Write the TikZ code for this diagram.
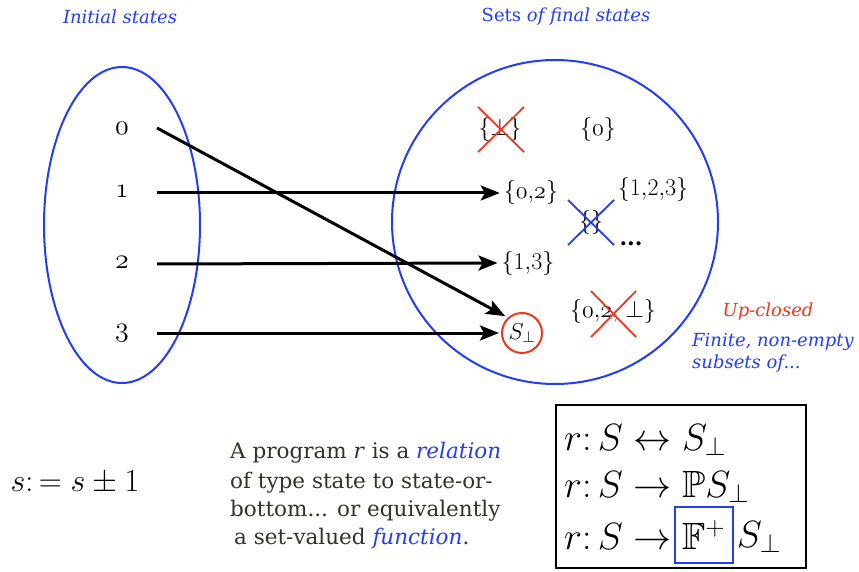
\RequirePackage{fix-cm}
\documentclass[tikz,border=0pt]{standalone}
\usepackage{amssymb}
\usepackage{fontspec}
\setmainfont{DejaVu Serif}
\usetikzlibrary{arrows.meta}
\definecolor{myblue}{RGB}{35,60,245}
\definecolor{myred}{RGB}{240,55,30}
\definecolor{txtgray}{RGB}{50,50,40}
\begin{document}
\begin{tikzpicture}[x=1pt,y=-1pt,
  lbl/.style={font=\fontsize{18}{22}\selectfont\itshape, text=myblue},
  num/.style={font=\fontsize{28}{32}\selectfont, inner sep=0pt},
  setn/.style={font=\fontsize{24}{28}\selectfont, inner sep=1pt},
  arr/.style={line width=3pt, -{Stealth[length=19pt,width=15pt,inset=4pt]}},
  crossr/.style={line width=1.8pt, myred},
  crossb/.style={line width=1.8pt, myblue},
  para/.style={font=\fontsize{21.5}{26}\selectfont, text=txtgray, anchor=west, inner sep=0pt},
  mathl/.style={font=\fontsize{38}{44}\selectfont, anchor=west, inner sep=0pt}]
\useasboundingbox (0,0) rectangle (859,572);
% titles
\node[lbl] (tinit) at (120,17) {Initial states};
\node[font=\fontsize{18}{22}\selectfont, text=myblue] (tfinal) at (566,17) {Sets \textit{of final states}};
% ellipses
\draw[myblue, line width=2pt] (122,225) ellipse [x radius=78, y radius=158];
\draw[myblue, line width=2pt] (555,222) ellipse [x radius=163, y radius=162];
% numbers
\node[num] (n0) at (122,128) {$\mathnormal{0}$};
\node[num] (n1) at (122,191) {$\mathnormal{1}$};
\node[num] (n2) at (122,262) {$\mathnormal{2}$};
\node[num] (n3) at (122,333) {$\mathnormal{3}$};
\coordinate (a0) at (157,128);
\coordinate (a1) at (157,193);
\coordinate (a2) at (157,264);
\coordinate (a3) at (157,333);
% sets
\node[setn] (sb) at (500,130) {$\{\perp\}$};
\draw[crossr] (478,107) -- (524,152);
\draw[crossr] (478,152) -- (524,107);
\node[setn] (s0) at (598,130) {$\{\mathnormal{0}\}$};
\node[setn] (s02) at (531,193) {$\{\mathnormal{0}{,}\mathnormal{2}\}$};
\node[setn] (s123) at (653,190) {$\{1{,}2{,}3\}$};
\node[setn] (se) at (591,222) {$\{\}$};
\draw[crossb] (568,200) -- (614,245);
\draw[crossb] (568,245) -- (614,200);
\node[font=\fontsize{22}{26}\selectfont\bfseries, inner sep=1pt] (dots) at (631,244) {...};
\node[setn] (s13) at (528,263) {$\{1{,}3\}$};
\node[setn] (s02b) at (613,311) {$\{\mathnormal{0}{,}\mathnormal{2}{,}\perp\}$};
\draw[crossr] (591,291) -- (636,337);
\draw[crossr] (591,337) -- (636,291);
\node[draw=myred, line width=2pt, circle, minimum size=40pt, inner sep=0pt, font=\fontsize{23}{27}\selectfont] (sbot) at (522,333) {$S_\perp$};
% arrows
\draw[arr] (a0) -- ([shift={(-2,-2)}]sbot.north west);
\draw[arr] (a1) -- ([xshift=-3pt]s02.west);
\draw[arr] (a2) -- ([xshift=-3pt]s13.west);
\draw[arr] (a3) -- ([xshift=-2pt]sbot.west);
% side labels
\node[font=\fontsize{18}{22}\selectfont\itshape, text=myred] (upc) at (768,312) {Up-closed};
\node[font=\fontsize{18}{22}\selectfont\itshape, text=myblue, anchor=north west, align=left, inner sep=0pt] (fin) at (692,333) {Finite, non-empty\\subsets of...};
% bottom
\node[font=\fontsize{32}{36}\selectfont] (assign) at (75,483) {$s\colon= s\pm 1$};
\node[para] (p1) at (230,453) {A program \textit{r} is a \textcolor{myblue}{\textit{relation}}};
\node[para] (p2) at (230,483) {of type state to state-or-};
\node[para] (p3) at (230,511) {bottom... or equivalently};
\node[para] (p4) at (234,539) {a set-valued \textcolor{myblue}{\textit{function}}.};
% box
\draw[line width=2.5pt] (556,405) rectangle (806,568);
\node[mathl] (m1) at (564,440) {$r\colon S\leftrightarrow S_\perp$};
\node[mathl] (m2) at (564,487) {$r\colon S\rightarrow \mathbb{P}S_\perp$};
\node[mathl] (m3a) at (564,537) {$r\colon S\rightarrow$};
\node[draw=myblue, line width=2pt, minimum width=58pt, minimum height=56pt, inner sep=0pt, anchor=west, font=\fontsize{38}{44}\selectfont] (fbox) at ([xshift=2pt]m3a.east |- 0,535) {$\mathbb{F}^+$};
\node[mathl] (m3c) at ([xshift=3pt]fbox.east |- m3a.west) {$S_\perp$};
\end{tikzpicture}
\end{document}
